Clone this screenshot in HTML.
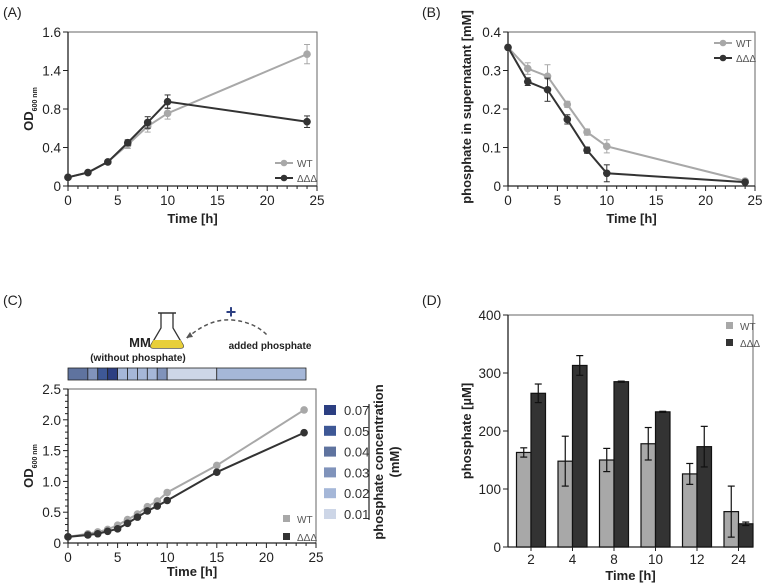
<!DOCTYPE html>
<html><head><meta charset="utf-8"><style>
html,body{margin:0;padding:0;background:#fff;width:764px;height:584px;overflow:hidden}
svg{display:block;font-family:"Liberation Sans",Arial,sans-serif}
.tk{font-size:13.5px;fill:#222}
.ttl{font-size:13px;font-weight:bold;fill:#222}
.lg{font-size:10px;fill:#555}
</style></head><body>
<svg id="fig" width="764" height="584" viewBox="0 0 764 584"></svg>
<script>
// Panel A data
const aTime=[0,2,4,6,8,10,24];
const aWT=[0.09,0.14,0.25,0.43,0.62,0.755,1.37];
const aWTerr=[0.01,0.01,0.015,0.04,0.06,0.06,0.1];
const aKO=[0.09,0.14,0.25,0.45,0.66,0.876,0.668];
const aKOerr=[0.01,0.01,0.01,0.03,0.06,0.07,0.06];
const aYTickVals=[0,0.4,0.8,1.2,1.6];
const aYTickLabels=["0","0.4","0.8","1.4","1.6"];
// Panel B data
const bTime=[0,2,4,6,8,10,24];
const bWT=[0.36,0.305,0.285,0.212,0.14,0.103,0.013];
const bWTerr=[0.004,0.015,0.03,0.008,0.008,0.017,0.004];
const bKO=[0.36,0.271,0.25,0.173,0.093,0.033,0.01];
const bKOerr=[0.004,0.01,0.03,0.012,0.008,0.022,0.004];
const bYTicks=[0,0.1,0.2,0.3,0.4];
// Panel C data
const cTime=[0,2,3,4,5,6,7,8,9,10,15,23.8];
const cWT=[0.1,0.15,0.18,0.22,0.29,0.38,0.47,0.59,0.68,0.82,1.26,2.16];
const cKO=[0.1,0.13,0.15,0.19,0.23,0.32,0.42,0.52,0.6,0.69,1.15,1.79];
const cYTicks=[0,0.5,1.0,1.5,2.0,2.5];
const cConcLevels=["0.07","0.05","0.04","0.03","0.02","0.01"];
const cBarSegEnds=[0,2,3,4,5,6,7,8,9,10,15,24];
const cBarSegConc=["0.04","0.03","0.05","0.07","0.02","0.02","0.02","0.02","0.03","0.01","0.02"];
// Panel D data
const dCats=["2","4","8","10","12","24"];
const dWT=[163,148,150,178,126,61];
const dWTerr=[8,43,20,28,18,44];
const dKO=[265,313,285,233,173,40];
const dKOerr=[16,17,1,1,35,3];
const dYTicks=[0,100,200,300,400];
const xTicks=[0,5,10,15,20,25];

const NS="http://www.w3.org/2000/svg";
const svg=document.getElementById('fig');
function el(tag,attrs,parent,text){const e=document.createElementNS(NS,tag);for(const k in attrs)e.setAttribute(k,attrs[k]);if(text!==undefined)e.textContent=text;(parent||svg).appendChild(e);return e;}
const concColor={"0.07":"#2c3f82","0.05":"#3e5896","0.04":"#5f739f","0.03":"#8093bb","0.02":"#a5b7d8","0.01":"#cdd6e7"};
const GRAY="#a8a8a8",DARK="#333333";

function lineChart(o){
  const g=el('g',{});
  
  
  const X=v=>o.x0+(v-o.xmin)/(o.xmax-o.xmin)*(o.x1-o.x0);
  const Y=v=>o.y0-(v-o.ymin)/(o.ymax-o.ymin)*(o.y0-o.y1);
  const fr=el('rect',{x:o.x0,y:o.y1,width:o.x1-o.x0,height:o.y0-o.y1,fill:'none',stroke:'#666','stroke-width':1},g);
  
  el('line',{x1:o.x0,y1:o.y1,x2:o.x0,y2:o.y0,stroke:'#222','stroke-width':1.3},g);
  el('line',{x1:o.x0,y1:o.y0,x2:o.x1,y2:o.y0,stroke:'#222','stroke-width':1.3},g);
  for(let v=0;v<=25;v++){const big=v%5===0;el('line',{x1:X(v),x2:X(v),y1:o.y0,y2:o.y0+(big?5:3),stroke:'#222'},g);}
  xTicks.forEach(v=>{const t=el('text',{x:X(v),y:o.y0+o.tkOff,'text-anchor':'middle',class:'tk'},g,String(v));});
  o.yTicks.forEach((v,i)=>{el('line',{x1:o.x0-5,x2:o.x0,y1:Y(v),y2:Y(v),stroke:'#222'},g);
    const t=el('text',{x:o.x0-7,y:Y(v)+5,'text-anchor':'end',class:'tk'},g,o.yLabels?o.yLabels[i]:o.fmt(v));});
  if(o.minorY){for(let k=0;k<o.yTicks.length-1;k++){const a=o.yTicks[k],b=o.yTicks[k+1];for(let m=1;m<o.minorY;m++){const v=a+(b-a)*m/o.minorY;el('line',{x1:o.x0-3,x2:o.x0,y1:Y(v),y2:Y(v),stroke:'#222'},g);}}}
  const xt=el('text',{x:(o.x0+o.x1)/2,y:o.y0+o.ttlOff,'text-anchor':'middle',class:'ttl'},g,'Time [h]');
  
  o.series.forEach(s=>{
    const sg=el('g',{},g);
    
    el('polyline',{points:s.t.map((t,i)=>X(t)+','+Y(s.v[i])).join(' '),fill:'none',stroke:s.c,'stroke-width':2},sg);
    s.t.forEach((t,i)=>{
      if(s.e){const e=s.e[i];el('line',{x1:X(t),x2:X(t),y1:Y(s.v[i]+e),y2:Y(s.v[i]-e),stroke:s.c,'stroke-width':1},sg);
        el('line',{x1:X(t)-3,x2:X(t)+3,y1:Y(s.v[i]+e),y2:Y(s.v[i]+e),stroke:s.c},sg);
        el('line',{x1:X(t)-3,x2:X(t)+3,y1:Y(s.v[i]-e),y2:Y(s.v[i]-e),stroke:s.c},sg);}
      const p=el('circle',{cx:X(t),cy:Y(s.v[i]),r:3.8,fill:s.c},sg);
      
    });
  });
  return {g,X,Y};
}
function legendLine(x,y,c,label,shape){
  const g=el('g',{});
  
  
  if(shape==='sq'){el('rect',{x:x+8,y:y-4,width:7,height:7,fill:c},g);}
  else{el('line',{x1:x,x2:x+18,y1:y,y2:y,stroke:c,'stroke-width':2},g);el('circle',{cx:x+9,cy:y,r:3.3,fill:c},g);}
  el('text',{x:x+22,y:y+4,class:'lg'},g,label);
}

// ---------- Panel A
el('text',{x:3,y:17,'font-size':'14','fill':'#222'},svg,'(A)');
lineChart({name:'panel-a-chart',x0:68,x1:317,y0:186,y1:32,xmin:0,xmax:25,ymin:0,ymax:1.6,yTicks:aYTickVals,yLabels:aYTickLabels,minorY:0,tkOff:19,ttlOff:37,
  series:[{name:'series-wt',t:aTime,v:aWT,e:aWTerr,c:GRAY},{name:'series-ddd',t:aTime,v:aKO,e:aKOerr,c:DARK}]});
(function(){const t=el('text',{transform:'translate(33,109) rotate(-90)','text-anchor':'middle',class:'ttl','font-size':'13'},svg);

el('tspan',{},t,'OD');el('tspan',{dy:4,'font-size':'7'},t,'600 nm');})();
legendLine(275,163,GRAY,'WT');legendLine(275,178,DARK,'ΔΔΔ');

// ---------- Panel B
el('text',{x:422,y:17,'font-size':'14','fill':'#222'},svg,'(B)');
lineChart({name:'panel-b-chart',x0:508,x1:755,y0:186,y1:32,xmin:0,xmax:25,ymin:0,ymax:0.4,yTicks:bYTicks,fmt:v=>v===0?'0':v.toFixed(1),minorY:0,tkOff:19,ttlOff:37,
  series:[{name:'series-wt',t:bTime,v:bWT,e:bWTerr,c:GRAY},{name:'series-ddd',t:bTime,v:bKO,e:bKOerr,c:DARK}]});
(function(){const t=el('text',{transform:'translate(471,107) rotate(-90)','text-anchor':'middle',class:'ttl'},svg,'phosphate in supernatant [mM]');
})();
legendLine(714,43,GRAY,'WT');legendLine(714,58,DARK,'ΔΔΔ');

// ---------- Panel C
el('text',{x:3,y:305,'font-size':'14','fill':'#222'},svg,'(C)');
(function(){const g=el('g',{});
el('path',{d:'M161 313 L161 328 L151 345 Q150 348 153 348 L181 348 Q184 348 183 345 L173 328 L173 313',fill:'none',stroke:'#333','stroke-width':1.3},g);
el('line',{x1:158,x2:176,y1:313,y2:313,stroke:'#333','stroke-width':1.5},g);
el('path',{d:'M153.5 340 L180.5 340 L183 345 Q184 348 181 348 L153 348 Q150 348 151 345 Z',fill:'#e8cf3a'},g);
el('path',{d:'M187 338 Q210 318 232 320 Q255 322 268 336',fill:'none',stroke:'#555','stroke-width':1.5,'stroke-dasharray':'4,3'},g);
el('path',{d:'M186 338 l7 -1 l-3 -5 z',fill:'#555'},g);
el('text',{x:231,y:318,'text-anchor':'middle','font-size':'18','font-weight':'bold',fill:'#2c3f82'},g,'+');
el('text',{x:140,y:347,'text-anchor':'middle','font-size':'13','font-weight':'bold',fill:'#222'},g,'MM');
el('text',{x:138,y:361,'text-anchor':'middle','font-size':'10','font-weight':'bold',fill:'#222'},g,'(without phosphate)');
el('text',{x:270,y:349,'text-anchor':'middle','font-size':'10','font-weight':'bold',fill:'#222'},g,'added phosphate');})();
lineChart({name:'panel-c-chart',x0:68,x1:316,y0:543,y1:389,xmin:0,xmax:25,ymin:0,ymax:2.5,yTicks:cYTicks,fmt:v=>v===0?'0':v.toFixed(1),minorY:5,tkOff:19,ttlOff:33,
  series:[{name:'series-wt',t:cTime,v:cWT,c:GRAY},{name:'series-ddd',t:cTime,v:cKO,c:DARK}]});
(function(){const g=el('g',{});
const bx=t=>68+t/24*(306-68);
cBarSegConc.forEach((c,i)=>{const r=el('rect',{x:bx(cBarSegEnds[i]),y:368,width:bx(cBarSegEnds[i+1])-bx(cBarSegEnds[i]),height:12,fill:concColor[c],stroke:'#222','stroke-width':0.8},g);
});})();
(function(){const t=el('text',{transform:'translate(33,466) rotate(-90)','text-anchor':'middle',class:'ttl'},svg);

el('tspan',{},t,'OD');el('tspan',{dy:4,'font-size':'7'},t,'600 nm');})();
legendLine(275,519,GRAY,'WT','sq');legendLine(275,537,DARK,'ΔΔΔ','sq');
(function(){const g=el('g',{});
cConcLevels.forEach((c,i)=>{const y=410+i*20.8;
el('rect',{x:324,y:y-5,width:12,height:10,fill:concColor[c]},g);
el('text',{x:344,y:y+5,'font-size':'13',fill:'#333'},g,c);});
el('line',{x1:369,x2:369,y1:404,y2:520,stroke:'#222','stroke-width':1.2},g);
el('text',{transform:'translate(383,462) rotate(-90)','text-anchor':'middle',class:'ttl'},g,'phosphate concentration');
el('text',{transform:'translate(399,462) rotate(-90)','text-anchor':'middle',class:'ttl'},g,'(mM)');})();

// ---------- Panel D
el('text',{x:422,y:305,'font-size':'14','fill':'#222'},svg,'(D)');
(function(){const g=el('g',{});
const x0=508,x1=753,y0=547,y1=315;const Y=v=>y0-v/400*(y0-y1);
el('rect',{x:x0,y:y1,width:x1-x0,height:y0-y1,fill:'none',stroke:'#666'},g);
el('line',{x1:x0,x2:x0,y1:y1,y2:y0,stroke:'#222','stroke-width':1.3},g);
el('line',{x1:x0,x2:x1,y1:y0,y2:y0,stroke:'#222','stroke-width':1.3},g);
dYTicks.forEach(v=>{el('line',{x1:x0-5,x2:x0,y1:Y(v),y2:Y(v),stroke:'#222'},g);
const t=el('text',{x:x0-7,y:Y(v)+5,'text-anchor':'end',class:'tk'},g,String(v));});
const bw=14.5,step=41.5,c0=531;
dCats.forEach((cat,i)=>{const cx=c0+i*step;
 [[dWT,dWTerr,GRAY,-1,'bar-wt-'],[dKO,dKOerr,DARK,0,'bar-ddd-']].forEach(([vals,errs,col,off,nm])=>{
  const v=vals[i],e=errs[i],bx=cx+off*bw;
  const r=el('rect',{x:bx,y:Y(v),width:bw,height:y0-Y(v),fill:col,stroke:'#111','stroke-width':1.2},g);
  
  const mx=bx+bw/2;
  el('line',{x1:mx,x2:mx,y1:Y(v+e),y2:Y(v-e),stroke:'#111','stroke-width':1.2},g);
  el('line',{x1:mx-3.5,x2:mx+3.5,y1:Y(v+e),y2:Y(v+e),stroke:'#111','stroke-width':1.2},g);
  el('line',{x1:mx-3.5,x2:mx+3.5,y1:Y(v-e),y2:Y(v-e),stroke:'#111','stroke-width':1.2},g);
 });
 el('line',{x1:cx,x2:cx,y1:y0,y2:y0+4,stroke:'#222'},g);
 const t=el('text',{x:cx,y:y0+17,'text-anchor':'middle',class:'tk'},g,cat);
});
const xt=el('text',{x:(x0+x1)/2,y:y0+33,'text-anchor':'middle',class:'ttl'},g,'Time [h]');
const yt=el('text',{transform:'translate(471,431) rotate(-90)','text-anchor':'middle',class:'ttl'},g,'phosphate [µM]');
})();
legendLine(718,326,GRAY,'WT','sq');legendLine(718,343,DARK,'ΔΔΔ','sq');
</script>
</body></html>
